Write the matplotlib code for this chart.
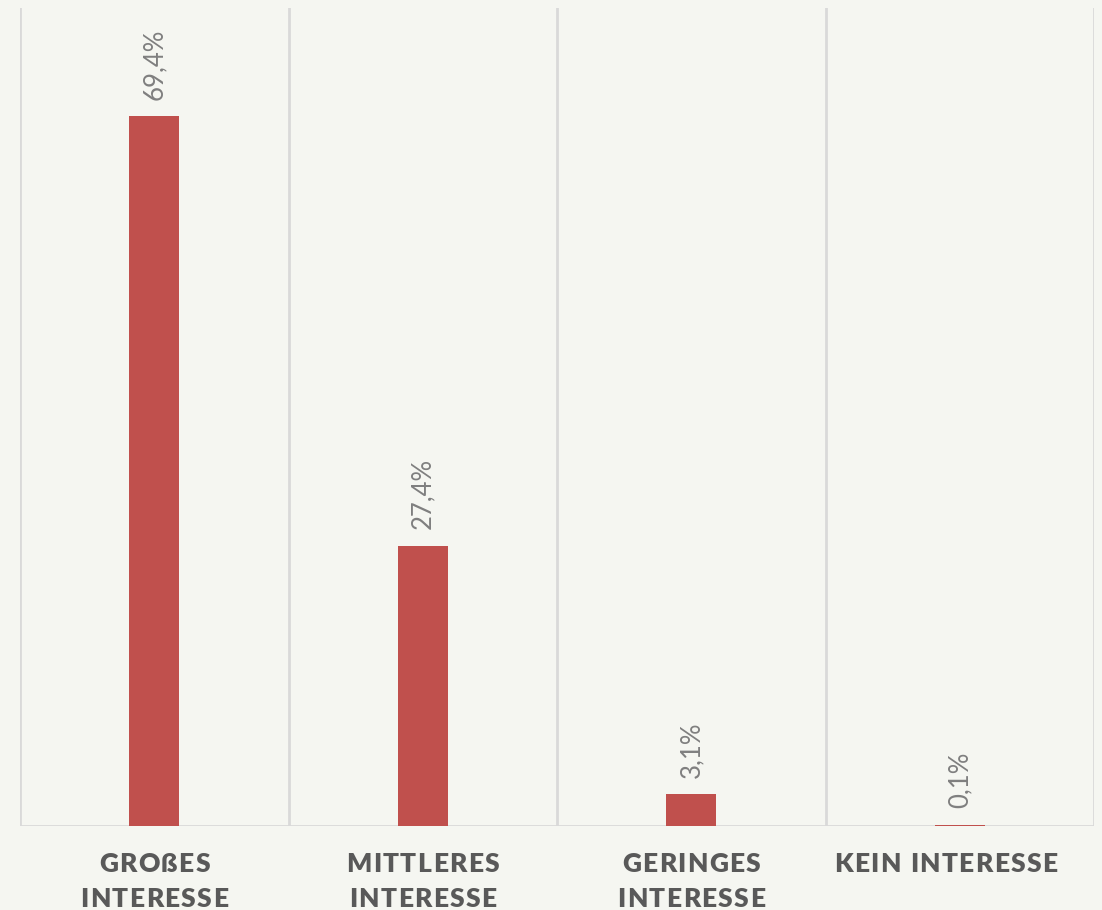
import numpy as np
import matplotlib.pyplot as plt
from matplotlib.transforms import IdentityTransform
from matplotlib.font_manager import FontProperties

# Daten
kategorien = [['GROßES', 'INTERESSE'], ['MITTLERES', 'INTERESSE'],
              ['GERINGES', 'INTERESSE'], ['KEIN INTERESSE']]
werte = [69.4, 27.4, 3.1, 0.1]
etiketten = ['69,4%', '27,4%', '3,1%', '0,1%']

hintergrund = '#F5F6F1'
rot = '#C0504D'
gitter = '#D9D9D9'

fig = plt.figure(figsize=(11.02, 9.10), dpi=100, facecolor=hintergrund)
ax = fig.add_axes([20/1102, 84/910, 1074/1102, 818/910])
ax.set_facecolor(hintergrund)

x = np.arange(len(werte))
ax.bar(x, werte, width=50/268.5, color=rot, zorder=3)

# vertikale Trennlinien zwischen den Kategorien
for pos in np.arange(-0.5, len(werte), 1.0):
    ax.axvline(pos, color=gitter, lw=2, zorder=1)
ax.axhline(0, color=gitter, lw=2, zorder=2)

for xi, w, e in zip(x, werte, etiketten):
    ax.annotate(e, (xi, w), xytext=(0, 12), textcoords='offset points',
                rotation=90, ha='center', va='bottom', fontsize=18.5,
                color='#7F7F7F', family='Lato')

ax.set_xlim(-0.5, len(werte) - 0.5)
ax.set_ylim(0, 80)
ax.set_yticks([])
ax.set_xticks([])
for s in ax.spines.values():
    s.set_visible(False)

# Kategorienamen mit Zeichenabstand (Pixelkoordinaten)
fp = FontProperties(family='Lato', weight='heavy', size=19)
renderer = fig.canvas.get_renderer()
abstand = 1.4

def breite(s):
    if s == '':
        return 0.0
    w, h, d = renderer.get_text_width_height_descent(s, fp, ismath=False)
    return w

def gesperrt(text, xm, yb):
    gesamt = breite(text) + (len(text) - 1) * abstand
    x0 = xm - gesamt / 2
    for i, ch in enumerate(text):
        if ch == ' ':
            continue
        links = breite(text[:i + 1]) - breite(ch) + i * abstand
        fig.text(x0 + links, yb, ch, fontproperties=fp, color='#595959',
                 ha='left', va='baseline', transform=IdentityTransform())

verschiebung = [0, 0, 0, -14]
for xi, zeilen, dx in zip(x, kategorien, verschiebung):
    xm = ax.transData.transform((xi, 0))[0] + dx
    for j, zeile in enumerate(zeilen):
        gesperrt(zeile, xm, 38 - 35 * j)

plt.savefig('out.png', dpi=100, facecolor=hintergrund)
plt.close()
